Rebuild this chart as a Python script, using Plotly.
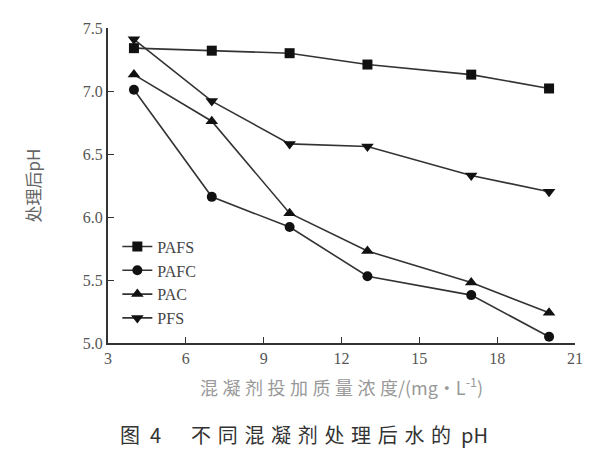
import plotly.graph_objects as go

dose = [4, 7, 10, 13, 17, 20]
pafs = [7.34, 7.32, 7.30, 7.21, 7.13, 7.02]
pafc = [7.01, 6.16, 5.92, 5.53, 5.38, 5.05]
pac = [7.13, 6.76, 6.03, 5.73, 5.48, 5.24]
pfs = [7.41, 6.92, 6.58, 6.56, 6.33, 6.20]

series = [
    ("PAFS", pafs, "square", 10),
    ("PAFC", pafc, "circle", 10),
    ("PAC", pac, "triangle-up", 11),
    ("PFS", pfs, "triangle-down", 11),
]

fig = go.Figure()
for name, vals, sym, sz in series:
    fig.add_trace(go.Scatter(
        x=dose, y=vals, name=name, mode="lines+markers",
        line=dict(color="#333333", width=1.6),
        marker=dict(symbol=sym, size=sz, color="#111111"),
    ))

serif = "Liberation Serif"
fig.update_layout(
    width=600, height=450,
    margin=dict(l=100, r=33, t=15, b=115),
    paper_bgcolor="white", plot_bgcolor="white",
    font=dict(family=serif, size=16, color="#555555"),
    showlegend=True,
    legend=dict(x=0.02, y=0.36, xanchor="left", yanchor="top",
                bgcolor="rgba(0,0,0,0)",
                font=dict(family=serif, size=16, color="#444444"),
                itemwidth=30, tracegroupgap=0),
    xaxis=dict(range=[3, 21], tickvals=[3, 6, 9, 12, 15, 18, 21],
               ticktext=["3", "6", "9", "12", "15", "18", "21"],
               tickmode="array",
               tickfont_family=serif, tickfont_size=16,
               showgrid=False, zeroline=False, showline=True,
               linecolor="#333333", linewidth=2, ticks="inside",
               ticklen=6, tickcolor="#333333",
               title=dict(text="混\u2005凝\u2005剂\u2005投\u2005加\u2005质\u2005量\u2005浓\u2005度/(mg·L<sup>-1</sup>)",
                          font=dict(size=18, color="#999999",
                                    family="Noto Sans CJK SC"),
                          standoff=16)),
    yaxis=dict(range=[5.0, 7.5], tickvals=[5.0, 5.5, 6.0, 6.5, 7.0, 7.5],
               ticktext=["5.0", "5.5", "6.0", "6.5", "7.0", "7.5"],
               tickmode="array",
               tickfont_family=serif, tickfont_size=16,
               showgrid=False, zeroline=False, showline=True,
               linecolor="#333333", linewidth=2, ticks="inside",
               ticklen=6, tickcolor="#333333",
               title=dict(text="处理后pH",
                          font=dict(size=17, color="#666666",
                                    family="Noto Sans CJK SC"),
                          standoff=38)),
)

fig.add_annotation(
    text="图\u20024\u2003\u2002不\u2004同\u2004混\u2004凝\u2004剂\u2004处\u2004理\u2004后\u2004水\u2004的\u2002pH",
    xref="paper", yref="paper", x=0.42, y=-0.29,
    xanchor="center", yanchor="middle", showarrow=False,
    font=dict(size=20, color="#333333", family="Noto Sans CJK SC"),
)

fig.write_html("out.html")
